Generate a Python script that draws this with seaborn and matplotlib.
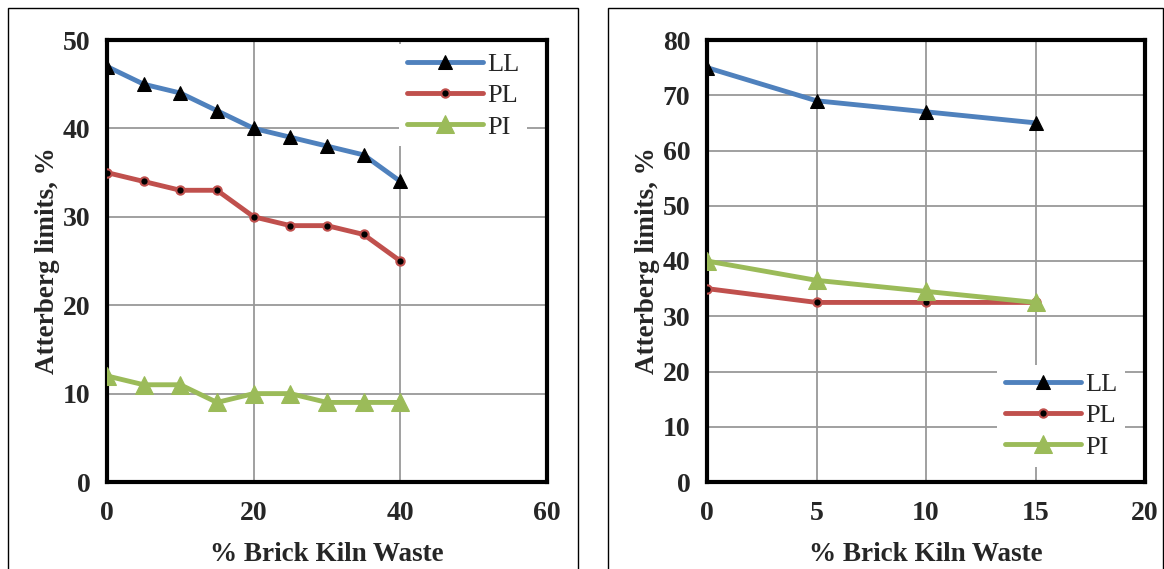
import matplotlib
matplotlib.use("Agg")
import matplotlib.pyplot as plt
import seaborn as sns
import pandas as pd
from matplotlib.patches import Rectangle

# ---- data ----
bkw_left = [0, 5, 10, 15, 20, 25, 30, 35, 40]
ll_left = [47, 45, 44, 42, 40, 39, 38, 37, 34]
pl_left = [35, 34, 33, 33, 30, 29, 29, 28, 25]
pi_left = [12, 11, 11, 9, 10, 10, 9, 9, 9]

bkw_right = [0, 5, 10, 15]
ll_right = [75, 69, 67, 65]
pl_right = [35, 32.5, 32.5, 32.5]
pi_right = [40, 36.5, 34.5, 32.5]

series_names = ["LL", "PL", "PI"]
left_xticks = [0, 20, 40, 60]
left_yticks = [0, 10, 20, 30, 40, 50]
right_xticks = [0, 5, 10, 15, 20]
right_yticks = [0, 10, 20, 30, 40, 50, 60, 70, 80]
xlabel = "% Brick Kiln Waste"
ylabel = "Atterberg limits, %"

sns.set_style("white")
plt.rcParams['font.family'] = ['Liberation Serif', 'DejaVu Serif']

W, H = 1164, 569
fig = plt.figure(figsize=(W / 100, H / 100), dpi=100)

# outer frames
fig.patches.append(Rectangle((8 / W, -0.01), 570 / W, 1.0 - 8 / H + 0.01,
                             transform=fig.transFigure, fill=False,
                             edgecolor="black", linewidth=1.0))
fig.patches.append(Rectangle((608 / W, -0.01), 555 / W, 1.0 - 8 / H + 0.01,
                             transform=fig.transFigure, fill=False,
                             edgecolor="black", linewidth=1.0))

colors = {"LL": "#4F81BD", "PL": "#C0504D", "PI": "#9BBB59"}
styles = {
    "LL": dict(marker="^", markersize=10, markerfacecolor="black", markeredgecolor="black"),
    "PL": dict(marker="o", markersize=6, markerfacecolor="black", markeredgecolor="#C0504D", markeredgewidth=1.5),
    "PI": dict(marker="^", markersize=13, markerfacecolor="#9BBB59", markeredgecolor="#9BBB59"),
}


def panel(rect, x, ll, pl, pi, xticks, yticks, legend_loc, legend_anchor):
    ax = fig.add_axes(rect)
    df = pd.DataFrame({"x": x * 3,
                       "v": ll + pl + pi,
                       "s": [series_names[0]] * len(x) + [series_names[1]] * len(x) + [series_names[2]] * len(x)})
    for name in series_names:
        sub = df[df["s"] == name]
        sns.lineplot(data=sub, x="x", y="v", ax=ax, color=colors[name], linewidth=3.5,
                     label=name, zorder=3, **styles[name])
    ax.set_xlim(xticks[0], xticks[-1])
    ax.set_ylim(yticks[0], yticks[-1])
    ax.set_xticks(xticks)
    ax.set_yticks(yticks)
    ax.grid(True, color="#999999", linewidth=1.3)
    for sp in ax.spines.values():
        sp.set_visible(True)
        sp.set_linewidth(3)
        sp.set_color("black")
    ax.tick_params(axis="x", labelsize=20, length=0, pad=14)
    ax.tick_params(axis="y", labelsize=20, length=0, pad=12)
    for lab in ax.get_xticklabels() + ax.get_yticklabels():
        lab.set_fontweight("bold")
    ax.set_xlabel(xlabel, fontsize=19.5, fontweight="bold", labelpad=11)
    ax.set_ylabel(ylabel, fontsize=19.5, fontweight="bold", labelpad=2)
    leg = ax.legend(loc=legend_loc, bbox_to_anchor=legend_anchor, frameon=True, fancybox=False,
                    edgecolor="white", framealpha=1, fontsize=19, handlelength=2.9,
                    handletextpad=0.15, labelspacing=0.3, borderpad=0.3)
    leg.get_frame().set_linewidth(0)
    return ax


panel([107 / W, (H - 482) / H, 440 / W, 442 / H], bkw_left, ll_left, pl_left, pi_left,
      left_xticks, left_yticks, "upper right", (0.985, 1.02))
panel([707 / W, (H - 482) / H, 438 / W, 442 / H], bkw_right, ll_right, pl_right, pi_right,
      right_xticks, right_yticks, "lower right", (0.985, 0.005))

fig.savefig("out.png", dpi=100)
